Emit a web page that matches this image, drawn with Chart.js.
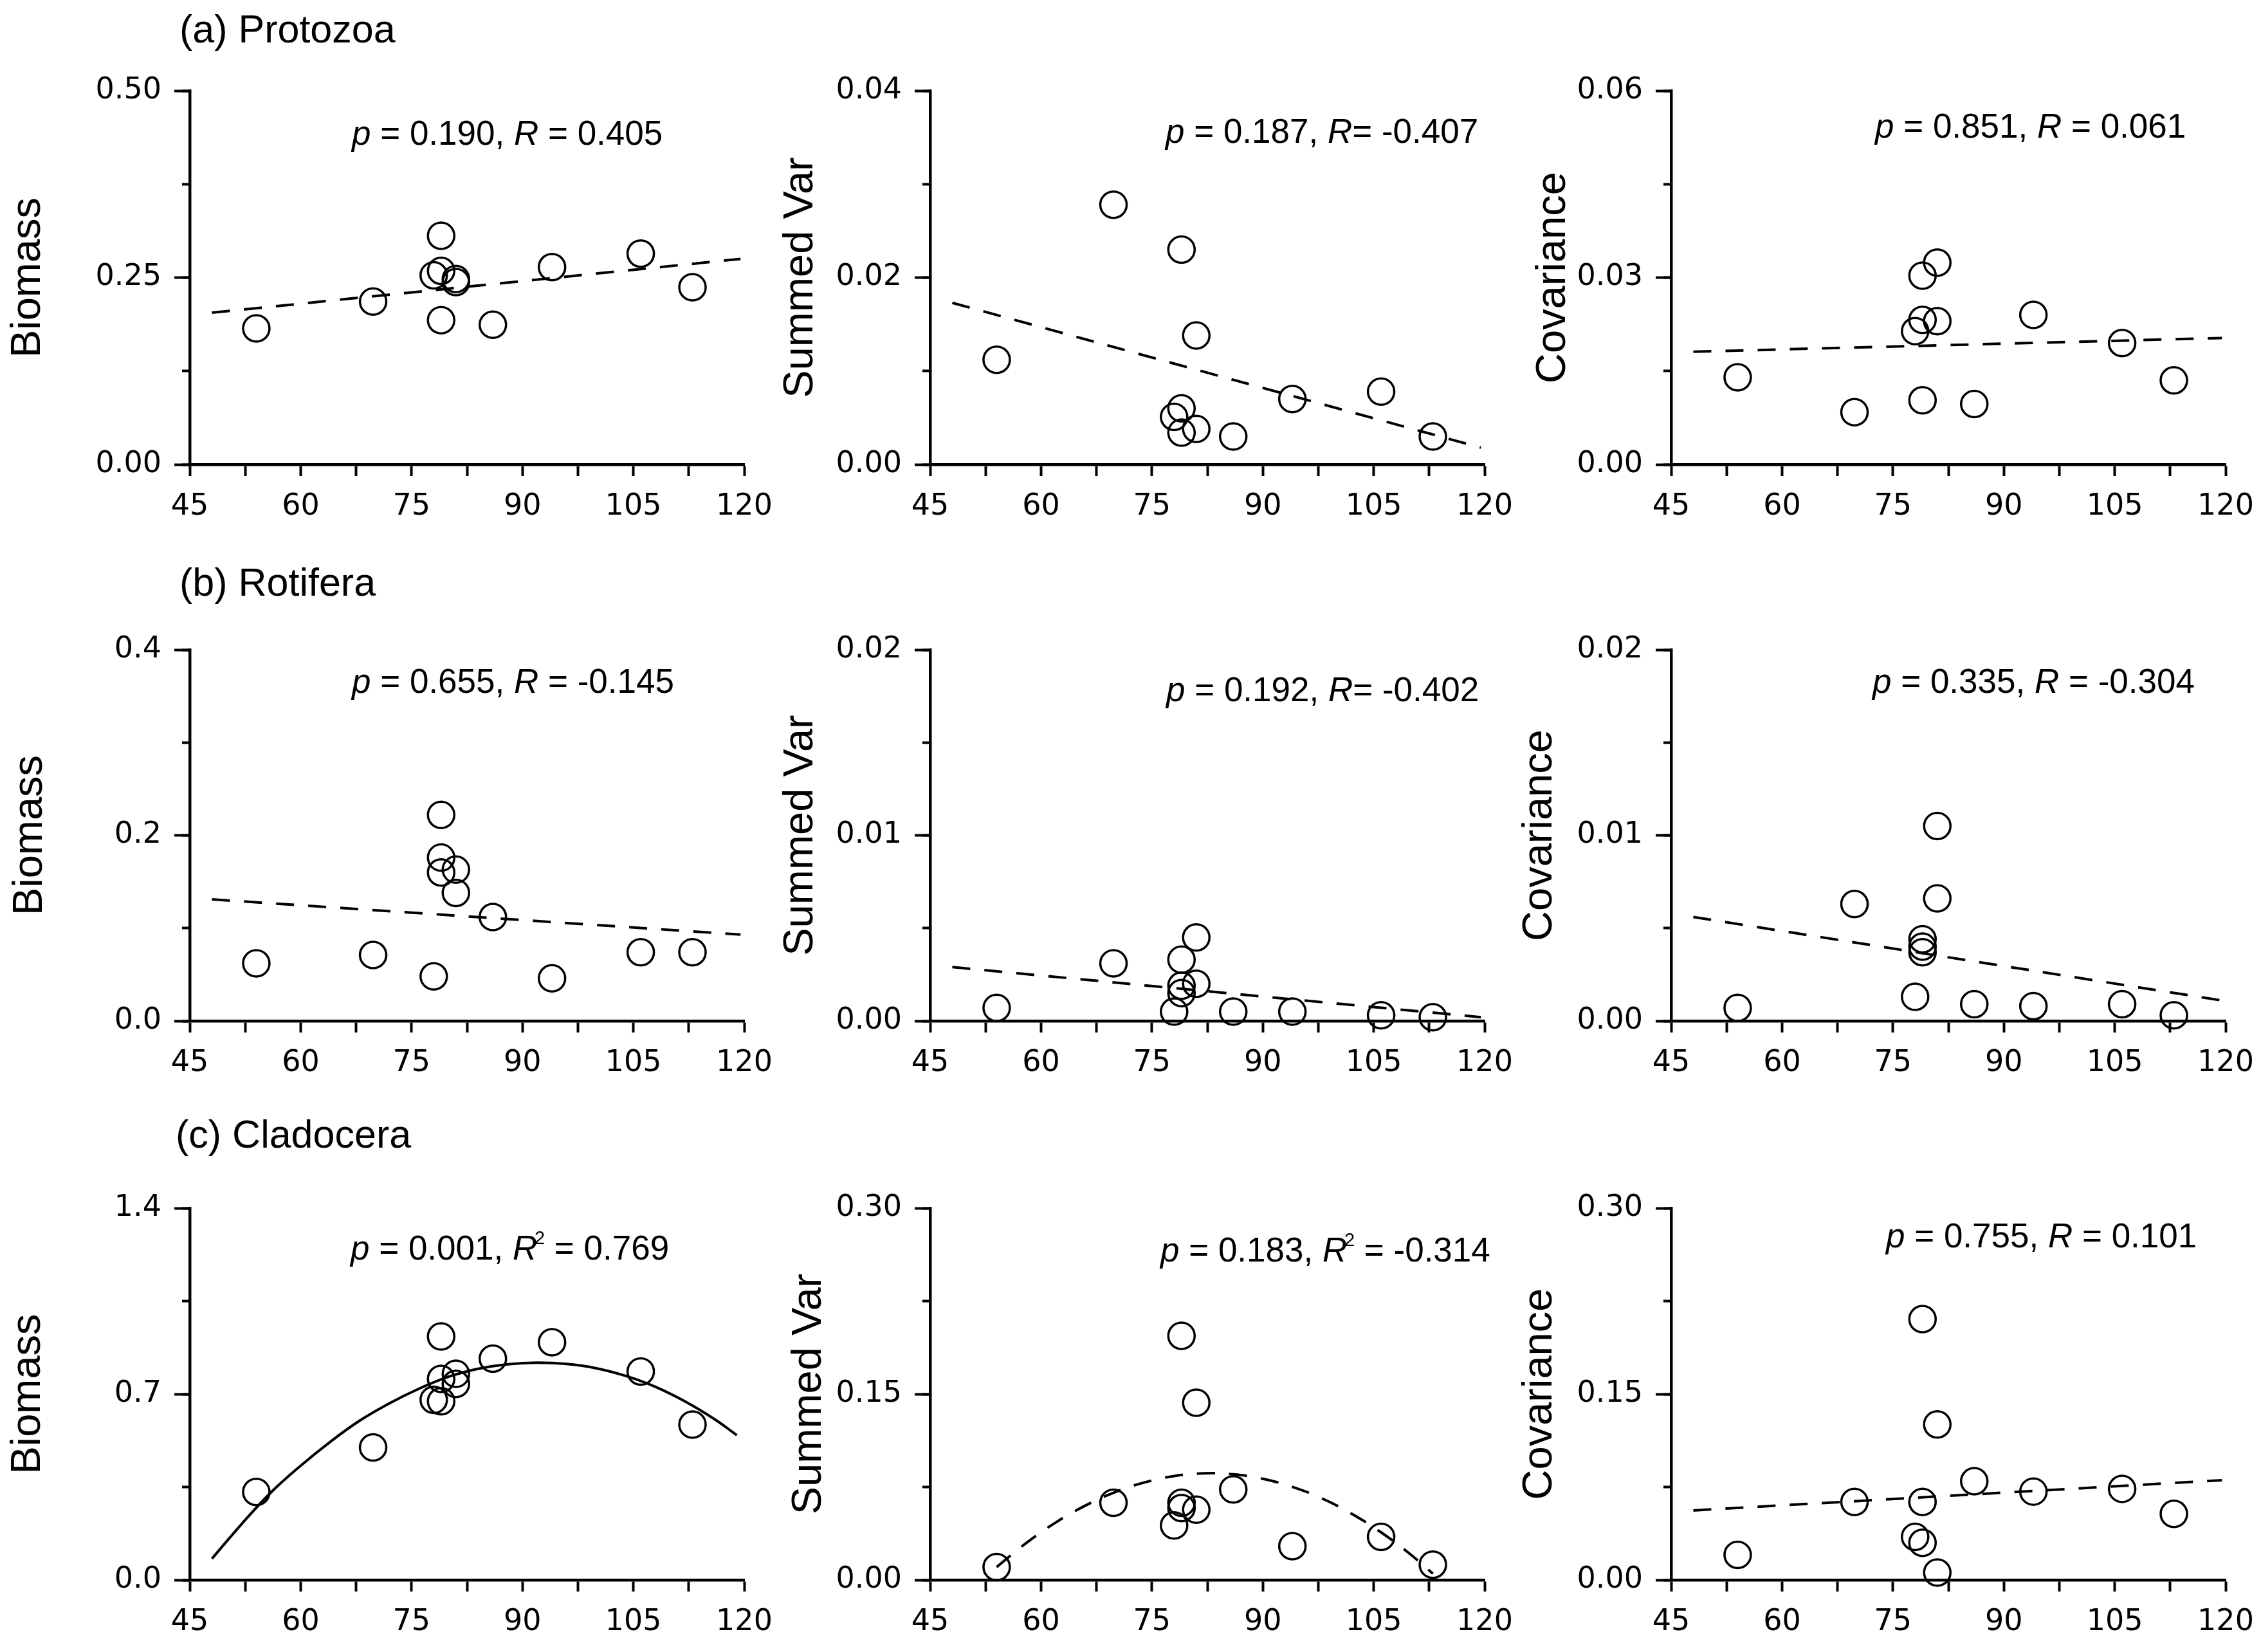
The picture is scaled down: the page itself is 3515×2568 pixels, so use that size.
<!DOCTYPE html>
<html><head><meta charset="utf-8">
<script src="https://cdn.jsdelivr.net/npm/chart.js@4.4.0/dist/chart.umd.min.js"></script>
<style>
html,body{margin:0;padding:0;background:#fff;}
body{width:3515px;height:2568px;position:relative;overflow:hidden;font-family:"Liberation Sans",Arial,sans-serif;}
canvas{position:absolute;}
.sec{position:absolute;font-size:61px;line-height:61px;color:#000;white-space:nowrap;}
</style></head><body>
<div class="sec" style="left:279px;top:15px">(a) Protozoa</div>
<div class="sec" style="left:279px;top:875px">(b) Rotifera</div>
<div class="sec" style="left:273px;top:1733px">(c) Cladocera</div>
<script>
// ---------- data ----------
const siteX = [54, 69.8, 78, 79, 79, 79, 81, 81, 86, 94, 106, 113];
const xTickLabels = ['45','60','75','90','105','120'];

const protozoaBiomass    = [0.182, 0.218, 0.253, 0.306, 0.259, 0.193, 0.248, 0.244, 0.187, 0.264, 0.282, 0.237];
const protozoaSummedVar  = [0.0112, 0.0278, 0.0051, 0.0230, 0.0060, 0.0034, 0.0138, 0.0038, 0.0030, 0.0070, 0.0078, 0.0030];
const protozoaCovariance = [0.0140, 0.0084, 0.0214, 0.0303, 0.0232, 0.0103, 0.0324, 0.0230, 0.0097, 0.0240, 0.0195, 0.0135];

const rotiferaBiomass    = [0.062, 0.071, 0.048, 0.222, 0.176, 0.160, 0.163, 0.138, 0.112, 0.046, 0.074, 0.074];
const rotiferaSummedVar  = [0.0007, 0.0031, 0.0005, 0.0033, 0.0019, 0.0015, 0.0045, 0.0020, 0.0005, 0.0005, 0.0003, 0.0002];
const rotiferaCovariance = [0.0007, 0.0063, 0.0013, 0.0044, 0.0037, 0.0040, 0.0105, 0.0066, 0.0009, 0.0008, 0.0009, 0.0003];

const cladoceraBiomass    = [0.331, 0.499, 0.678, 0.917, 0.757, 0.673, 0.776, 0.738, 0.833, 0.895, 0.785, 0.585];
const cladoceraSummedVar  = [0.0104, 0.0623, 0.0440, 0.1970, 0.0623, 0.0580, 0.1430, 0.0567, 0.0730, 0.0272, 0.0348, 0.0123];
const cladoceraCovariance = [0.0202, 0.0629, 0.0348, 0.2105, 0.0629, 0.0300, 0.1255, 0.0060, 0.0797, 0.0713, 0.0735, 0.0533];

// fitted lines / curves
const protozoaBiomassFitX = [48, 119.5],  protozoaBiomassFitY = [0.203, 0.275];
const protozoaSummedVarFitX = [48, 119.5], protozoaSummedVarFitY = [0.0173, 0.0018];
const protozoaCovarianceFitX = [48, 119.5], protozoaCovarianceFitY = [0.0181, 0.0203];
const rotiferaBiomassFitX = [48, 119.5], rotiferaBiomassFitY = [0.131, 0.093];
const rotiferaSummedVarFitX = [48, 119.5], rotiferaSummedVarFitY = [0.0029, 0.0002];
const rotiferaCovarianceFitX = [48, 119.5], rotiferaCovarianceFitY = [0.0056, 0.0011];
const cladoceraBiomassFitX = [48, 52, 56, 60, 64, 68, 72, 76, 80, 84, 88, 92, 96, 100, 104, 108, 112, 116, 119];
const cladoceraBiomassFitY = [0.08, 0.21, 0.33, 0.43, 0.52, 0.60, 0.665, 0.72, 0.765, 0.795, 0.812, 0.818, 0.813, 0.797, 0.768, 0.727, 0.672, 0.605, 0.545];
const cladoceraSummedVarFitX = [54, 58, 62, 66, 70, 74, 78, 82, 86, 90, 94, 98, 102, 106, 110, 113];
const cladoceraSummedVarFitY = [0.0104, 0.0298, 0.0464, 0.060, 0.0708, 0.0787, 0.0838, 0.086, 0.0852, 0.0816, 0.0751, 0.0658, 0.0535, 0.0384, 0.0205, 0.005];
const cladoceraCovarianceFitX = [48, 119.5], cladoceraCovarianceFitY = [0.0561, 0.0805];

// y tick labels
const protozoaBiomassTicks = ['0.00','0.25','0.50'];
const protozoaSummedVarTicks = ['0.00','0.02','0.04'];
const protozoaCovarianceTicks = ['0.00','0.03','0.06'];
const rotiferaBiomassTicks = ['0.0','0.2','0.4'];
const rotiferaSummedVarTicks = ['0.00','0.01','0.02'];
const rotiferaCovarianceTicks = ['0.00','0.01','0.02'];
const cladoceraBiomassTicks = ['0.0','0.7','1.4'];
const cladoceraSummedVarTicks = ['0.00','0.15','0.30'];
const cladoceraCovarianceTicks = ['0.00','0.15','0.30'];

const panels = [
 {row:0,col:0,ys:protozoaBiomass,fitX:protozoaBiomassFitX,fitY:protozoaBiomassFitY,yTicks:protozoaBiomassTicks,yTitle:'Biomass',stats:'p = 0.190, R = 0.405',solid:false},
 {row:0,col:1,ys:protozoaSummedVar,fitX:protozoaSummedVarFitX,fitY:protozoaSummedVarFitY,yTicks:protozoaSummedVarTicks,yTitle:'Summed Var',stats:'p = 0.187, R= -0.407',solid:false},
 {row:0,col:2,ys:protozoaCovariance,fitX:protozoaCovarianceFitX,fitY:protozoaCovarianceFitY,yTicks:protozoaCovarianceTicks,yTitle:'Covariance',stats:'p = 0.851, R = 0.061',solid:false},
 {row:1,col:0,ys:rotiferaBiomass,fitX:rotiferaBiomassFitX,fitY:rotiferaBiomassFitY,yTicks:rotiferaBiomassTicks,yTitle:'Biomass',stats:'p = 0.655, R = -0.145',solid:false},
 {row:1,col:1,ys:rotiferaSummedVar,fitX:rotiferaSummedVarFitX,fitY:rotiferaSummedVarFitY,yTicks:rotiferaSummedVarTicks,yTitle:'Summed Var',stats:'p = 0.192, R= -0.402',solid:false},
 {row:1,col:2,ys:rotiferaCovariance,fitX:rotiferaCovarianceFitX,fitY:rotiferaCovarianceFitY,yTicks:rotiferaCovarianceTicks,yTitle:'Covariance',stats:'p = 0.335, R = -0.304',solid:false},
 {row:2,col:0,ys:cladoceraBiomass,fitX:cladoceraBiomassFitX,fitY:cladoceraBiomassFitY,yTicks:cladoceraBiomassTicks,yTitle:'Biomass',stats:'p = 0.001, R² = 0.769',solid:true},
 {row:2,col:1,ys:cladoceraSummedVar,fitX:cladoceraSummedVarFitX,fitY:cladoceraSummedVarFitY,yTicks:cladoceraSummedVarTicks,yTitle:'Summed Var',stats:'p = 0.183, R² = -0.314',solid:false},
 {row:2,col:2,ys:cladoceraCovariance,fitX:cladoceraCovarianceFitX,fitY:cladoceraCovarianceFitY,yTicks:cladoceraCovarianceTicks,yTitle:'Covariance',stats:'p = 0.755, R = 0.101',solid:false}
];

// ---------- layout (positions / styles) ----------
const PLOT_LEFT = [295, 1446, 2598], PLOT_TOP = [141, 1010, 1878], PLOT_H = [581, 577, 578];
const PLOT_W = 862, AXW = 295, PADT = 60, PADR = 80, XAXH = 100;
const TITLE_OFF = [[251,201,183],[248,201,204],[251,188,204]];
const STATS_POS = [[[252,84],[366,81],[317,73]],[[252,67],[367,80],[313,67]],[[250,80],[358,83],[334,61]]];
const FONT = '"Liberation Sans", Arial, Helvetica, sans-serif';
const TICK_FONT = '"DejaVu Sans", "Liberation Sans", Arial, sans-serif';

Chart.defaults.font.family = FONT;
Chart.defaults.color = '#000';

function toSegments(str){
  const out = [];
  for (const ch of str){
    const st = (ch==='p'||ch==='R') ? 'i' : (ch==='²' ? 'sup' : '');
    const t = ch==='²' ? '2' : ch;
    if (out.length && out[out.length-1][1]===st) out[out.length-1][0] += t;
    else out.push([t, st]);
  }
  return out;
}

const statsPlugin = {
  id: 'stats',
  afterDatasetsDraw(chart, args, opts){
    if (!opts || !opts.text) return;
    const {ctx, chartArea} = chart;
    let x = chartArea.left + opts.dx;
    const y = chartArea.top + opts.dy;
    ctx.save();
    ctx.fillStyle = '#000';
    ctx.textAlign = 'left';
    ctx.textBaseline = 'alphabetic';
    for (const [t, st] of toSegments(opts.text)){
      let size = opts.size, yy = y, pre = '';
      if (st === 'i') pre = 'italic ';
      if (st === 'sup'){ size = Math.round(opts.size*0.55); yy = y - opts.size*0.45; x -= opts.size*0.08; }
      ctx.font = pre + size + 'px ' + FONT;
      ctx.fillText(t, x, yy);
      x += ctx.measureText(t).width;
    }
    ctx.restore();
  }
};

const xVals = xTickLabels.map(Number);
const xAll = [];
for (let i=0;i<xVals.length-1;i++){ xAll.push(xVals[i], (xVals[i]+xVals[i+1])/2); }
xAll.push(xVals[xVals.length-1]);

panels.forEach(p => {
  const cv = document.createElement('canvas');
  const W = AXW + PLOT_W + PADR, H = PADT + PLOT_H[p.row] + XAXH;
  cv.width = W; cv.height = H;
  cv.style.width = W + 'px'; cv.style.height = H + 'px';
  cv.style.left = (PLOT_LEFT[p.col] - AXW) + 'px';
  cv.style.top = (PLOT_TOP[p.row] - PADT) + 'px';
  document.body.appendChild(cv);

  const yVals = p.yTicks.map(Number);
  const yMinor = [];
  for (let i=0;i<yVals.length-1;i++){ yMinor.push(yVals[i], (yVals[i]+yVals[i+1])/2); }
  yMinor.push(yVals[yVals.length-1]);
  const yMin = yVals[0], yMax = yVals[yVals.length-1];
  const sp = STATS_POS[p.row][p.col];

  const chart = new Chart(cv, {
    type: 'scatter',
    data: { datasets: [
      { data: siteX.map((x,i)=>({x:x, y:p.ys[i]})), xAxisID:'x', yAxisID:'y',
        pointStyle:'circle', pointRadius:20.5, pointHoverRadius:20.5,
        borderColor:'#000', pointBorderColor:'#000', backgroundColor:'rgba(0,0,0,0)', pointBackgroundColor:'rgba(0,0,0,0)',
        borderWidth:3.5, pointBorderWidth:3.5, clip:false },
      { data: p.fitX.map((x,i)=>({x:x, y:p.fitY[i]})), xAxisID:'x', yAxisID:'y',
        showLine:true, pointRadius:0, pointHoverRadius:0, borderColor:'#000', backgroundColor:'#000',
        borderWidth:4, borderDash: p.solid ? [] : [28,22], tension: p.fitX.length>2 ? 0.4 : 0, fill:false, clip:false }
    ]},
    options: {
      responsive:false, animation:false, devicePixelRatio:1, events:[],
      layout:{ padding:{top:PADT, right:PADR, left:0, bottom:0} },
      plugins:{ legend:{display:false}, tooltip:{enabled:false},
        stats:{ text:p.stats, dx:sp[0], dy:sp[1], size:53 } },
      scales:{
        x:{ type:'linear', position:'bottom', min:45, max:120,
          afterBuildTicks: s => { s.ticks = xAll.map(v=>({value:v})); },
          afterFit: s => { s.height = XAXH; },
          ticks:{ autoSkip:false, maxRotation:0, minRotation:0, padding:20, font:{size:46, family:TICK_FONT}, color:'#000',
            callback: v => { const k = xVals.indexOf(v); return k>=0 ? xTickLabels[k] : ''; } },
          grid:{ drawOnChartArea:false, drawTicks:true, tickLength:18, tickWidth:4, tickColor:'#000' },
          border:{ display:true, color:'#000', width:4.5 } },
        y:{ type:'linear', position:'left', weight:1, min:yMin, max:yMax,
          afterBuildTicks: s => { s.ticks = yVals.map(v=>({value:v})); },
          afterFit: s => { s.width = AXW; },
          ticks:{ autoSkip:false, padding:20, font:{size:46, family:TICK_FONT}, color:'#000',
            callback: v => { const k = yVals.indexOf(v); return k>=0 ? p.yTicks[k] : ''; } },
          grid:{ drawOnChartArea:false, drawTicks:true, tickLength:24, tickWidth:4, tickColor:'#000' },
          border:{ display:true, color:'#000', width:4.5 },
          title:{ display:true, text:p.yTitle, color:'#000', font:{size:65, lineHeight:1},
            padding:{ top: AXW - TITLE_OFF[p.row][p.col] - 32.5, bottom:0 } } },
        y2:{ type:'linear', position:'left', weight:0, min:yMin, max:yMax,
          afterBuildTicks: s => { s.ticks = yMinor.map(v=>({value:v})); },
          afterFit: s => { s.width = 0; },
          ticks:{ display:false },
          grid:{ drawOnChartArea:false, drawTicks:true, tickLength:12, tickWidth:4, tickColor:'#000' },
          border:{ display:false } }
      }
    },
    plugins:[statsPlugin]
  });

  // align the chart area precisely with the intended plot box
  const ca = chart.chartArea;
  const dH = (ca.bottom - ca.top) - PLOT_H[p.row];
  const dW = (ca.right - ca.left) - PLOT_W;
  if (Math.abs(dH) > 0.5 || Math.abs(dW) > 0.5) {
    const W2 = W - dW, H2 = H - dH;
    cv.style.width = W2 + 'px'; cv.style.height = H2 + 'px';
    chart.resize(W2, H2);
  }
  cv.style.top = (PLOT_TOP[p.row] - chart.chartArea.top) + 'px';
  cv.style.left = (PLOT_LEFT[p.col] - chart.chartArea.left) + 'px';
});
</script>
</body></html>
